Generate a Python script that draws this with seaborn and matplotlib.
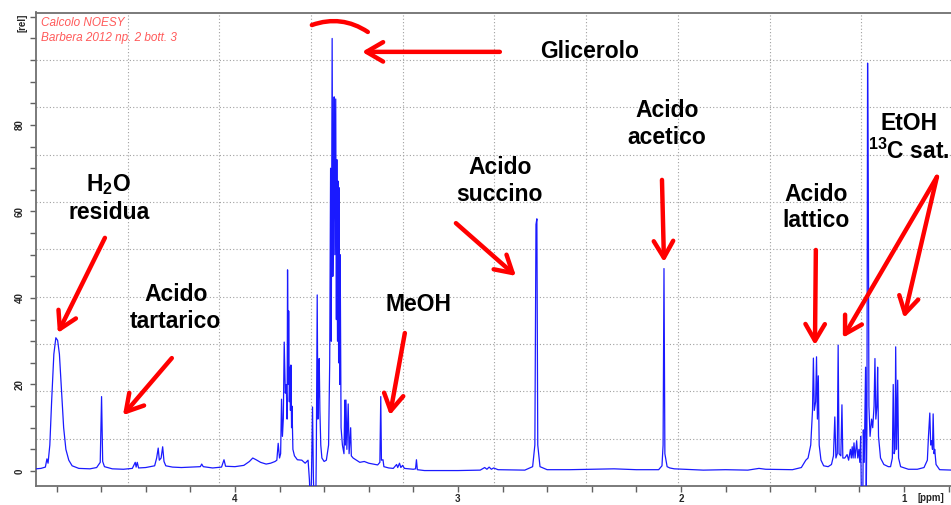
import matplotlib
matplotlib.use('Agg')
import matplotlib.pyplot as plt
import pandas as pd
import seaborn as sns
from matplotlib.ticker import MultipleLocator

# spectrum vertices (ppm, rel. intensity), high ppm -> low ppm
water_region = [
    (4.892, 0.5), (4.87, 0.6), (4.85, 0.9), (4.843, 2.8), (4.838, 1.8), (4.830, 6),
    (4.822, 16), (4.812, 27), (4.803, 30.8), (4.795, 30.2), (4.787, 27), (4.778, 19),
    (4.768, 10), (4.758, 5), (4.745, 2.5), (4.73, 1.2), (4.70, 0.6), (4.65, 0.5),
    (4.62, 0.8), (4.604, 2), (4.598, 17.2), (4.593, 2.2), (4.585, 1), (4.55, 0.5),
    (4.50, 0.4), (4.46, 0.6), (4.447, 2.0), (4.443, 0.9), (4.438, 2.0), (4.432, 0.7),
    (4.40, 0.8), (4.36, 1.2), (4.351, 3.0), (4.344, 5.3), (4.339, 2.5), (4.331, 3.0),
    (4.324, 5.6), (4.318, 2.2), (4.31, 1.2), (4.28, 0.9), (4.24, 0.8), (4.20, 0.9),
    (4.155, 1.0), (4.149, 1.6), (4.142, 1.0), (4.10, 0.7), (4.06, 0.9), (4.049, 2.6),
    (4.042, 1.1), (4.00, 1.0), (3.96, 1.3), (3.935, 2.2), (3.920, 3.0), (3.905, 2.6),
    (3.885, 2.0), (3.86, 1.6), (3.84, 1.8), (3.82, 2.2),
]
sugar_region = [
    (3.812, 2.5), (3.806, 6.4), (3.800, 3.0), (3.795, 4), (3.791, 16.6), (3.787, 8),
    (3.783, 12), (3.779, 29.8), (3.774, 18), (3.770, 20), (3.766, 12), (3.764, 46.5),
    (3.761, 20), (3.759, 37), (3.756, 16), (3.753, 24), (3.751, 14), (3.749, 24.5),
    (3.746, 10), (3.744, 15), (3.740, 5), (3.733, 3.5), (3.72, 2.6), (3.70, 2.5),
    (3.685, 1.8), (3.672, 2.5), (3.666, -2), (3.660, -10), (3.656, 1), (3.652, 14.8),
    (3.648, -2), (3.643, -10), (3.638, -10), (3.635, 4), (3.631, 40.7), (3.628, 12),
    (3.625, 18), (3.622, 26), (3.619, 14), (3.615, 6), (3.61, 3), (3.60, 2.2),
    (3.59, 2.5), (3.580, 6), (3.575, 25), (3.571, 70), (3.568, 30), (3.564, 100),
    (3.561, 45), (3.558, 60), (3.555, 86.5), (3.552, 50), (3.548, 86), (3.545, 35),
    (3.543, 72), (3.540, 30), (3.537, 67), (3.535, 25), (3.533, 65.5), (3.530, 20),
    (3.528, 50), (3.524, 10), (3.518, 6), (3.511, 4), (3.507, 16.4), (3.505, 6),
    (3.502, 16.4), (3.498, 5), (3.492, 15.5), (3.488, 4), (3.481, 10), (3.478, 3.5),
    (3.47, 3), (3.455, 2.5), (3.44, 2.0), (3.42, 2.2), (3.40, 1.8), (3.38, 1.6),
    (3.36, 1.4), (3.35, 2.0), (3.346, 17.2), (3.343, 2.5), (3.336, 2.6), (3.332, 1.0),
    (3.31, 0.7), (3.29, 0.6), (3.275, 1.5), (3.27, 0.8), (3.262, 1.8), (3.256, 0.8),
    (3.248, 1.3), (3.24, 0.6), (3.20, 0.4), (3.190, 0.5), (3.186, 2.6), (3.182, 0.3),
]
acid_region = [
    (3.15, 0.1), (3.00, 0.1), (2.90, 0.2), (2.88, 0.8), (2.87, 0.4), (2.86, 0.9),
    (2.85, 0.4), (2.84, 0.7), (2.82, 0.3), (2.70, 0.2), (2.665, 1.0), (2.655, 6),
    (2.650, 57), (2.646, 58.3), (2.642, 6), (2.632, 1.0), (2.60, 0.3), (2.50, 0.3),
    (2.40, 0.4), (2.30, 0.5), (2.20, 0.3), (2.10, 0.3), (2.085, 1.2), (2.080, 6),
    (2.076, 46.8), (2.072, 4), (2.062, 1.0), (2.05, 0.7), (2.03, 0.5), (1.90, 0.2),
    (1.80, 0.3), (1.70, 0.2), (1.65, 0.6), (1.62, 0.4), (1.50, 0.3), (1.46, 0.8),
    (1.440, 2.5), (1.430, 3.0),
]
ethanol_region = [
    (1.418, 6), (1.410, 14), (1.406, 26.1), (1.402, 14), (1.396, 16), (1.392, 26.4),
    (1.388, 12), (1.384, 22), (1.380, 6), (1.372, 2.5), (1.36, 1.2), (1.34, 1.0),
    (1.325, 1.5), (1.316, 3.5), (1.310, 12.5), (1.305, 3.0), (1.299, 4), (1.295, 29.1),
    (1.291, 4), (1.283, 3.5), (1.278, 15.3), (1.274, 3.0), (1.265, 3.0), (1.255, 3.8),
    (1.248, 2.5), (1.240, 5.0), (1.236, 3), (1.232, 5.6), (1.228, 3), (1.224, 6.5),
    (1.219, 3), (1.212, 7), (1.207, 3), (1.202, 5), (1.198, 2), (1.194, 8),
    (1.190, -10), (1.185, -10), (1.182, 9.5), (1.178, 2), (1.172, 24), (1.169, -5),
    (1.166, 10), (1.163, 94.3), (1.160, 67), (1.157, 15), (1.152, 8), (1.145, 12),
    (1.140, 10), (1.134, 15), (1.130, 26), (1.126, 12), (1.121, 15), (1.118, 24),
    (1.114, 8), (1.105, 3), (1.09, 1.5), (1.07, 1.0), (1.06, 1.0), (1.052, 3),
    (1.048, 20), (1.044, 4), (1.040, 5), (1.037, 28.7), (1.033, 5), (1.028, 21),
    (1.024, 3), (1.015, 1.0), (0.98, 0.4), (0.94, 0.4), (0.91, 0.8), (0.895, 2.5),
    (0.890, 8), (0.884, 13.4), (0.880, 6), (0.876, 7), (0.872, 5), (0.869, 13.2),
    (0.865, 4), (0.862, 5), (0.856, 1.5), (0.84, 0.3), (0.78, 0.2),
]

# annotations
label_text = ['H$_{\\mathrm{2}}$O\nresidua', 'Acido\ntartarico', 'MeOH', 'Acido\nsuccino',
              'Acido\nacetico', 'Glicerolo', 'Acido\nlattico', 'EtOH\n$^{\\mathrm{13}}$C sat.']
label_ppm = [4.565, 4.265, 3.177, 2.812, 2.063, 2.408, 1.395, 0.978]
label_rel = [63.1, 37.7, 38.4, 67.05, 80.2, 96.9, 60.9, 77.0]

arrow_tail = [(4.583, 53.9), (4.283, 26.1), (3.238, 31.9), (3.009, 57.3), (2.085, 67.3),
              (2.812, 96.9), (1.395, 51.1), (0.852, 68.0), (0.852, 68.0)]
arrow_head = [(4.794, 31.9), (4.502, 12.9), (3.305, 12.9), (2.740, 45.1), (2.076, 48.3),
              (3.430, 96.9), (1.399, 29.1), (1.274, 30.8), (1.000, 35.4)]

sns.set_theme(style='white')
plt.rcParams['font.family'] = ['Liberation Sans', 'DejaVu Sans']
plt.rcParams['mathtext.fontset'] = 'custom'
plt.rcParams['mathtext.rm'] = 'Liberation Sans:bold'

points = water_region + sugar_region + acid_region + ethanol_region
df = pd.DataFrame(points, columns=['ppm', 'rel'])

fig = plt.figure(figsize=(9.51, 5.05), dpi=100)
ax = fig.add_axes([36 / 951, 1 - 486 / 505, (953 - 36) / 951, (486 - 12.5) / 505])

sns.lineplot(data=df, x='ppm', y='rel', sort=False, estimator=None,
             color='#1a1aff', lw=0.9, ax=ax, zorder=3)

xlim = (4.892, 0.780)
ylim = (-3.47, 106.0)
ax.set_xlim(*xlim)
ax.set_ylim(*ylim)

# dotted grid: 10 equal divisions like TopSpin
for k in range(1, 10):
    ax.axvline(xlim[0] + k / 10 * (xlim[1] - xlim[0]), color='#a0a0a0', ls=(0, (1, 2)), lw=0.8, zorder=1)
    ax.axhline(ylim[0] + k / 10 * (ylim[1] - ylim[0]), color='#a0a0a0', ls=(0, (1, 2)), lw=0.8, zorder=1)

ax.set_xticks([4, 3, 2, 1], labels=['4', '3', '2', '1'], fontweight='bold', fontsize=7)
ax.xaxis.set_minor_locator(MultipleLocator(0.2))
ax.set_yticks([0, 20, 40, 60, 80, 100], labels=['0', '20', '40', '60', '80', ''],
              fontweight='bold', fontsize=7, rotation=90, va='center')
ax.yaxis.set_minor_locator(MultipleLocator(5))
ax.tick_params(which='both', direction='out', length=4, width=1, color='#606060')
ax.tick_params(axis='x', which='both', bottom=True, pad=2)
ax.tick_params(axis='y', which='both', left=True, pad=4)
ax.set_xlabel('')
ax.set_ylabel('')
for s in ax.spines.values():
    s.set_color('#707070')
    s.set_linewidth(1.3)

fig.text(22 / 951, 1 - 23 / 505, '[rel]', rotation=90, fontsize=7, fontweight='bold',
         ha='center', va='center')
fig.text(931 / 951, 1 - 498 / 505, '[ppm]', fontsize=7, fontweight='bold', ha='center', va='center')

fig.text(41 / 951, 1 - 23 / 505, 'Calcolo NOESY', color='#ff5a5a', style='italic', fontsize=8.5, va='center')
fig.text(41 / 951, 1 - 38 / 505, 'Barbera 2012 np. 2 bott. 3', color='#ff5a5a', style='italic',
         fontsize=8.5, va='center')

for txt, x, y in zip(label_text, label_ppm, label_rel):
    ax.text(x, y, txt, ha='center', va='center', fontsize=16.5, fontweight='bold',
            color='black', zorder=5)

for tail, head in zip(arrow_tail, arrow_head):
    ax.annotate('', xy=head, xytext=tail,
                arrowprops=dict(arrowstyle='->,head_length=1.2,head_width=0.7', color='#ff0000',
                                lw=3.2, shrinkA=0, shrinkB=0, mutation_scale=10), zorder=5)

# curved mark over the glycerol peak
ax.annotate('', xy=(3.404, 101.5), xytext=(3.655, 103.1),
            arrowprops=dict(arrowstyle='-', connectionstyle='arc3,rad=-0.25', color='#ff0000',
                            lw=3.2, shrinkA=0, shrinkB=0), zorder=5)

fig.savefig('out.png', dpi=100)
